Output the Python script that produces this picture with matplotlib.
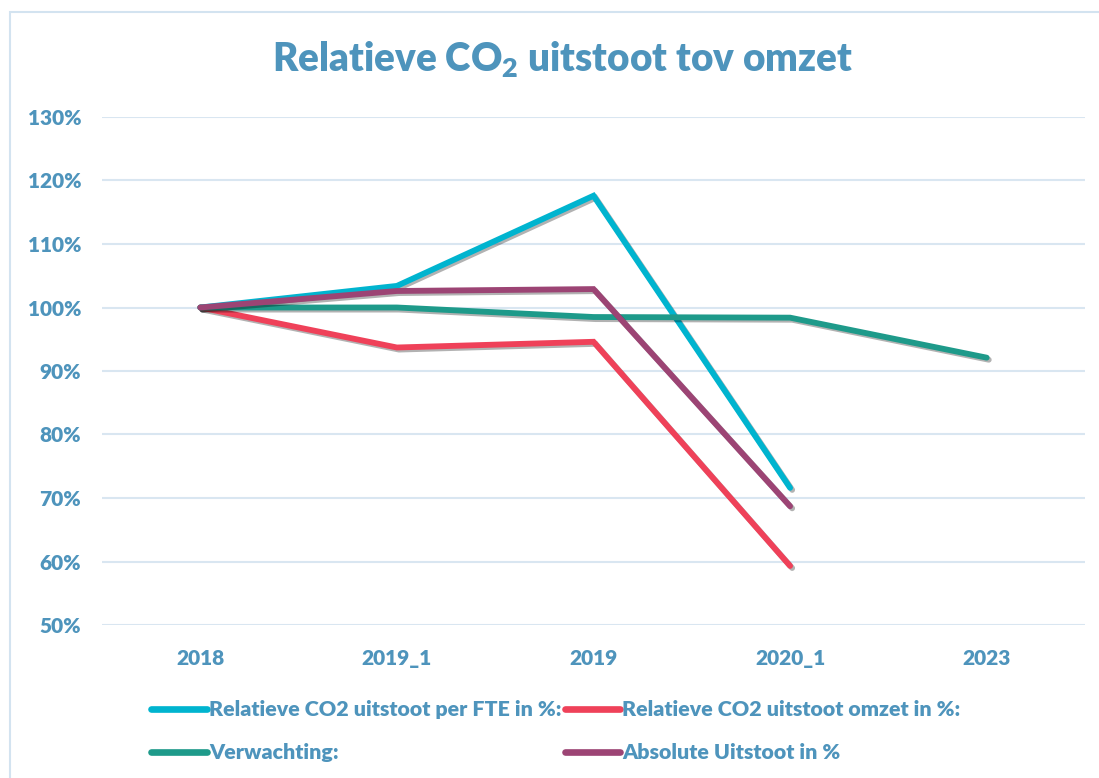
import matplotlib.pyplot as plt
import matplotlib.patheffects as pe
from matplotlib.patches import Rectangle
import numpy as np

# categories and series (percent)
categories = ['2018', '2019_1', '2019', '2020_1', '2023']
fte = [100, 103.4, 117.6, 71.6]
omzet = [100, 93.7, 94.6, 59.3]
verwachting = [100, 100, 98.5, 98.4, 92.1]
absoluut = [100, 102.6, 102.9, 68.7]
y_ticks = [50, 60, 70, 80, 90, 100, 110, 120, 130]

text_color = '#4E94BC'
grid_color = '#D9E6F1'

plt.rcParams['font.family'] = ['Lato', 'DejaVu Sans']
plt.rcParams['font.weight'] = 'heavy'

fig = plt.figure(figsize=(10.99, 7.78), dpi=100)
ax = fig.add_axes([102 / 1099, 1 - 625 / 778, (1085 - 102) / 1099, (625 - 117) / 778])

x = np.arange(len(categories))
shadow = [pe.SimpleLineShadow(offset=(1.5, -1.5), alpha=0.3, shadow_color='black'), pe.Normal()]

series = [
    (fte, '#00B4CF', 'Relatieve CO2 uitstoot per FTE in %:'),
    (omzet, '#EF4159', 'Relatieve CO2 uitstoot omzet in %:'),
    (verwachting, '#1E9A8A', 'Verwachting:'),
    (absoluut, '#9C4474', 'Absolute Uitstoot in %'),
]
lines = {}
for vals, col, lab in series:
    ln, = ax.plot(x[:len(vals)], vals, color=col, lw=4.2, solid_capstyle='round',
                  solid_joinstyle='miter', label=lab, path_effects=shadow)
    lines[lab] = ln

ax.set_xlim(-0.5, len(categories) - 0.5)
ax.set_ylim(50, 130)
ax.set_yticks(y_ticks)
ax.set_yticklabels([f'{v}%' for v in y_ticks])
ax.set_xticks(x)
ax.set_xticklabels(categories)
ax.tick_params(axis='both', length=0, colors=text_color, labelsize=15)
ax.tick_params(axis='y', pad=15)
ax.tick_params(axis='x', pad=17)
for lbl in ax.get_xticklabels() + ax.get_yticklabels():
    lbl.set_fontweight('heavy')
ax.grid(axis='y', color=grid_color, lw=1.5)
ax.set_axisbelow(True)
for s in ax.spines.values():
    s.set_visible(False)

fig.text(0.512, 1 - 60 / 778, r'Relatieve CO$_\mathregular{2}$ uitstoot tov omzet', ha='center', va='center',
         fontsize=27.8, fontweight='heavy', color=text_color)

# outer border
fig.patches.append(Rectangle((10 / 1099, -0.1), 1.2, 1 - 12 / 778 + 0.1, transform=fig.transFigure,
                             fill=False, edgecolor='#D3E3F0', lw=1.5))

order = ['Relatieve CO2 uitstoot per FTE in %:', 'Verwachting:',
         'Relatieve CO2 uitstoot omzet in %:', 'Absolute Uitstoot in %']
leg = fig.legend([lines[k] for k in order], order, ncol=2, loc='upper left',
                 bbox_to_anchor=(132 / 1099, 1 - 681 / 778), frameon=False,
                 fontsize=15.4, handlelength=2.6, handletextpad=0.1, columnspacing=0.15,
                 labelspacing=1.12)
for t in leg.get_texts():
    t.set_color(text_color)
    t.set_fontweight('heavy')
for h in leg.legend_handles:
    h.set_path_effects([])
    h.set_linewidth(4.8)

fig.savefig('out.png', dpi=100)
